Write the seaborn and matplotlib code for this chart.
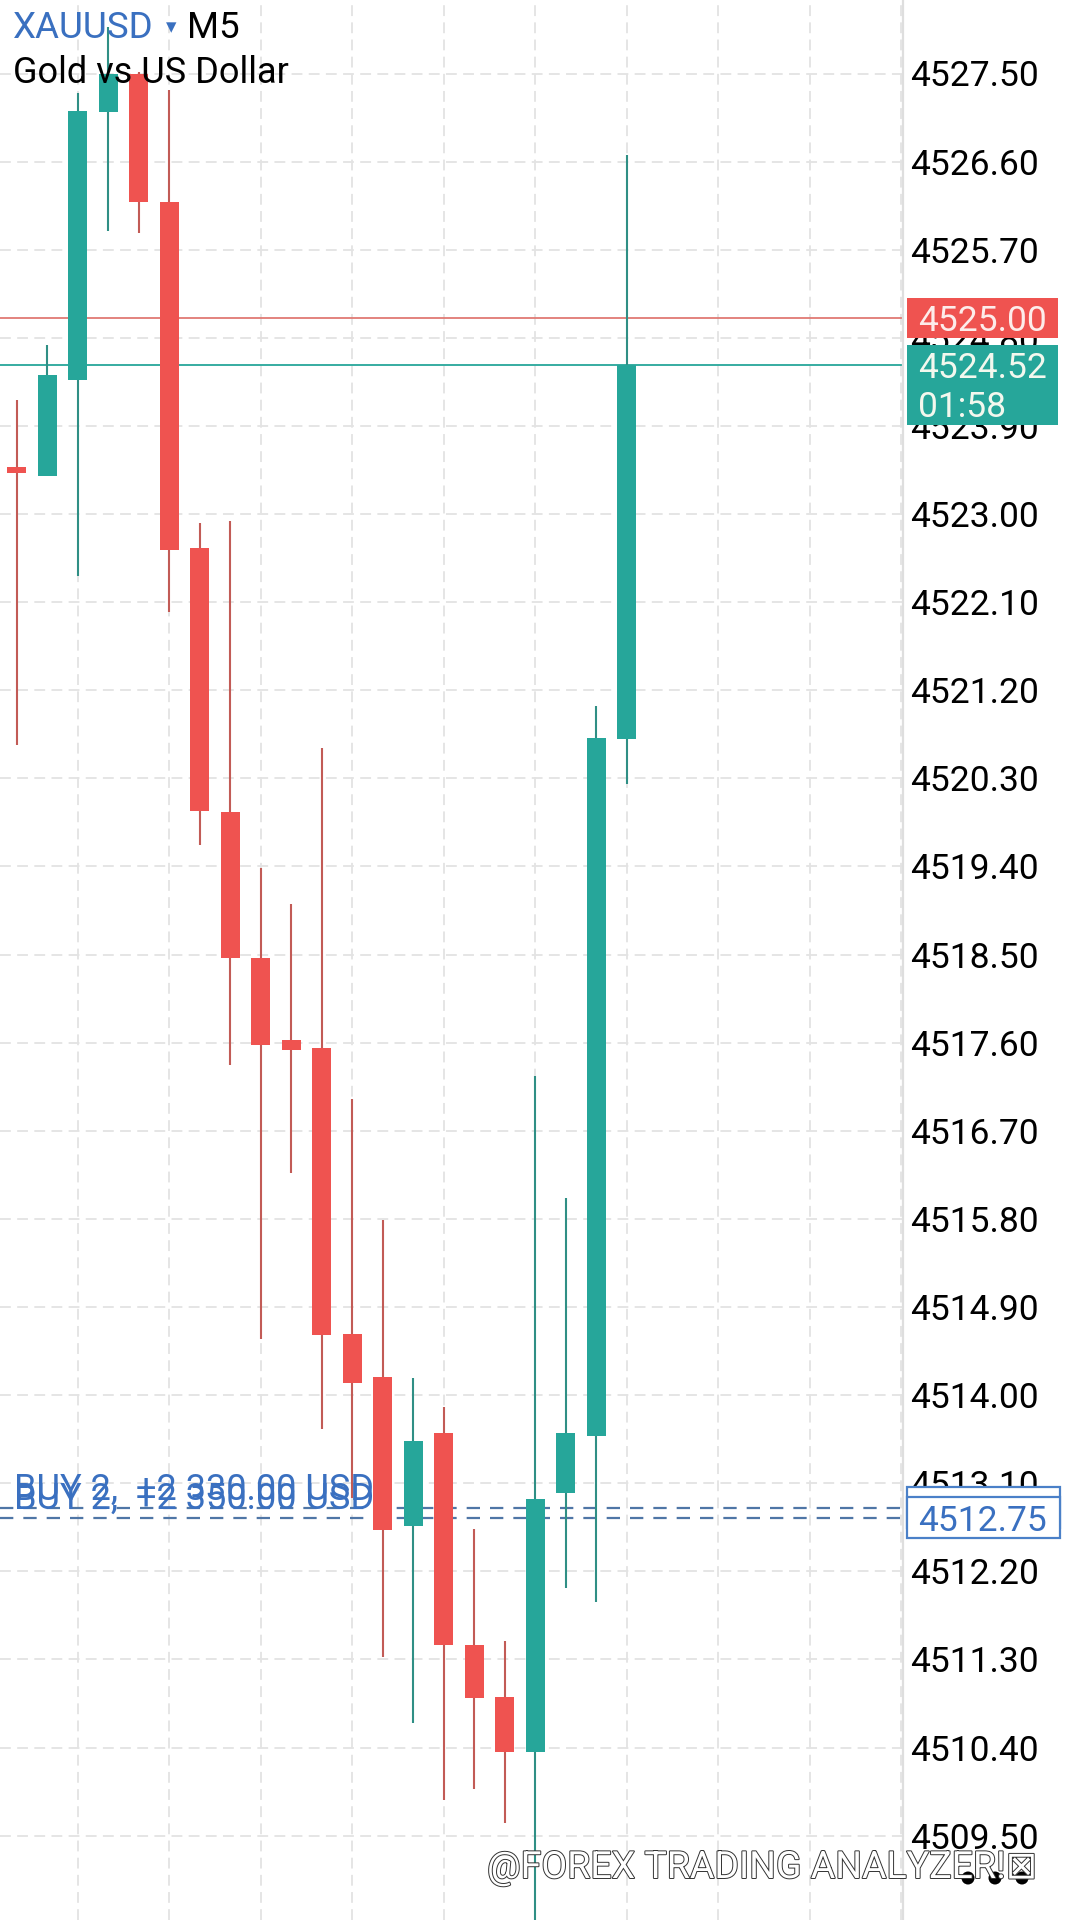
import matplotlib
matplotlib.use("Agg")
import matplotlib.pyplot as plt
import matplotlib.patheffects as pe
from matplotlib.patches import Rectangle, Circle
import seaborn as sns
import numpy as np
import pandas as pd

# ---------------- data ----------------
opens  = [4523.48, 4523.39, 4524.37, 4527.11, 4527.49, 4526.19, 4522.65, 4519.96, 4518.47, 4517.63,
          4517.55, 4514.62, 4514.19, 4512.66, 4513.61, 4511.45, 4510.92, 4510.36, 4513.00, 4513.58, 4520.70]
highs  = [4524.17, 4524.73, 4527.30, 4527.97, 4527.52, 4527.33, 4522.91, 4522.93, 4519.38, 4519.02,
          4520.61, 4517.03, 4515.79, 4514.18, 4513.88, 4512.63, 4511.49, 4517.26, 4516.01, 4521.04, 4526.67]
lows   = [4520.64, 4523.39, 4522.37, 4525.89, 4525.87, 4522.00, 4519.62, 4517.37, 4514.57, 4516.27,
          4513.65, 4512.95, 4511.33, 4510.65, 4509.86, 4509.98, 4509.63, 4508.40, 4512.03, 4511.89, 4520.24]
closes = [4523.42, 4524.42, 4527.12, 4527.50, 4526.19, 4522.63, 4519.97, 4518.47, 4517.58, 4517.53,
          4514.61, 4514.12, 4512.62, 4513.53, 4511.45, 4510.91, 4510.36, 4512.94, 4513.61, 4520.71, 4524.52]

tick_values = [4509.50, 4510.40, 4511.30, 4512.20, 4513.10, 4514.00, 4514.90, 4515.80, 4516.70,
               4517.60, 4518.50, 4519.40, 4520.30, 4521.20, 4522.10, 4523.00, 4523.90, 4524.80,
               4525.70, 4526.60, 4527.50]

ask_price = 4525.00
bid_price = 4524.52
timer_text = "01:58"
buy_prices = [4512.85, 4512.75]
buy_labels = ["BUY 2,  +2 330.00 USD", "BUY 2,  +2 350.00 USD"]
symbol = "XAUUSD"
timeframe = "M5"
description = "Gold vs US Dollar"
watermark = "@FOREX TRADING ANALYZER!⊠"

df = pd.DataFrame({"open": opens, "high": highs, "low": lows, "close": closes})
df["idx"] = np.arange(len(df))
df["up"] = df["close"] >= df["open"]

# ---------------- style ----------------
sns.set_theme(style="white")
plt.rcParams["font.family"] = ["Roboto", "DejaVu Sans"]

GREEN = "#26a69a"
RED = "#ef5350"
GREEN_W = "#2f8f85"
RED_W = "#c25b56"
BLUE = "#3a70c0"

W, H = 1086, 1920
fig = plt.figure(figsize=(W / 100, H / 100), dpi=100)
fig.patch.set_facecolor("white")
ax_w = 903
ax = fig.add_axes([0, 0, ax_w / W, 1])
ax.set_facecolor("white")

step = 30.5
x0 = 16.7
ax.set_xlim(-x0 / step, (ax_w - x0) / step)
ppu = 97.9
ax.set_ylim(4527.5 - (H - 73.5) / ppu, 4527.5 + 73.5 / ppu)

# grid
ax.set_axisbelow(True)
ax.set_xticks(np.arange(2, 30, 3))
ax.set_yticks(tick_values)
ax.set_yticklabels([f"{v:.2f}" for v in tick_values])
ax.yaxis.tick_right()
ax.tick_params(axis="x", length=0, labelbottom=False)
ax.tick_params(axis="y", length=0, pad=5, labelsize=25.5, labelcolor="black")
ax.grid(True, color="#e3e3e3", linestyle=(0, (6, 3.5)), linewidth=1.3)
for s in ["top", "left", "bottom"]:
    ax.spines[s].set_visible(False)
ax.spines["right"].set_color("#dedede")
ax.spines["right"].set_linewidth(1.6)

# price lines
ax.axhline(ask_price, color="#e07a74", lw=1.3, zorder=1)
ax.axhline(bid_price, color=GREEN, lw=1.3, zorder=1)
for p in buy_prices:
    ax.axhline(p, color="#4f76a6", lw=1.6, linestyle=(0, (6, 4.5)), zorder=1.2)

# buy labels (under candles)
ytr = ax.get_yaxis_transform()
for p, lab in zip(buy_prices, buy_labels):
    ax.text(14 / ax_w, p + 0.085, lab, transform=ytr, ha="left", va="baseline",
            fontsize=26, color=BLUE, zorder=1.5)

# candles
wick_cols = [GREEN_W if u else RED_W for u in df["up"]]
body_cols = [GREEN if u else RED for u in df["up"]]
ax.vlines(df["idx"], df["low"], df["high"], colors=wick_cols, linewidth=1.5, zorder=3)
bottoms = np.minimum(df["open"], df["close"])
heights = np.maximum(np.abs(df["close"] - df["open"]), 0.06)
ax.bar(df["idx"], heights, bottom=bottoms, width=0.633, color=body_cols, linewidth=0, zorder=4)

# right-hand price boxes
bx = 906.7 / ax_w
bw = (1058 - 906.7) / ax_w
tx = 917.7 / ax_w
ax.add_patch(Rectangle((bx, ask_price - 0.205), bw, 0.41, transform=ytr, clip_on=False,
                       facecolor=RED, edgecolor="none", zorder=6))
ax.text(tx, ask_price, f"{ask_price:.2f}", transform=ytr, ha="left", va="center_baseline",
        fontsize=25.5, color="#fdecea", zorder=7, clip_on=False)
ax.add_patch(Rectangle((bx, 4523.91), bw, 4524.73 - 4523.91, transform=ytr, clip_on=False,
                       facecolor=GREEN, edgecolor="none", zorder=6))
ax.text(tx, bid_price, f"{bid_price:.2f}", transform=ytr, ha="left", va="center_baseline",
        fontsize=25.5, color="#f3f8ee", zorder=7, clip_on=False)
ax.text(tx, bid_price - 0.40, timer_text, transform=ytr, ha="left", va="center_baseline",
        fontsize=25.5, color="#f3f8ee", zorder=7, clip_on=False)
z = 8
for p in buy_prices:
    ax.add_patch(Rectangle((bx, p - 0.21), bw + 0.002, 0.42, transform=ytr, clip_on=False,
                           facecolor="white", edgecolor="#4a80c8", linewidth=1.6, zorder=z))
    ax.text(tx, p, f"{p:.2f}", transform=ytr, ha="left", va="center_baseline",
            fontsize=25.5, color=BLUE, zorder=z + 1, clip_on=False)
    z += 2

# header texts
fig.text(12.7 / W, 1 - 38 / H, symbol, fontsize=26.5, color="#3a70c0", ha="left", va="baseline")
fig.text(166 / W, 1 - 33 / H, "▾", fontsize=15, color="#3a70c0", ha="left", va="baseline",
         family=["DejaVu Sans"])
fig.text(187 / W, 1 - 38 / H, timeframe, fontsize=26.5, color="black", ha="left", va="baseline")
fig.text(12.7 / W, 1 - 83 / H, description, fontsize=26, color="black", ha="left", va="baseline")

# watermark
fig.text(487 / W, 1 - 1878 / H, watermark, fontsize=27, color="white", ha="left", va="baseline",
         family=["Roboto", "DejaVu Sans"], zorder=20,
         path_effects=[pe.withStroke(linewidth=1.4, foreground="#333333")])
for cx in (968, 995, 1022):
    fig.add_artist(Circle((cx / 100, (H - 1878) / 100), 0.065, transform=fig.dpi_scale_trans,
                          facecolor="black", edgecolor="none", zorder=19))

fig.savefig("out.png", dpi=100, facecolor="white")
